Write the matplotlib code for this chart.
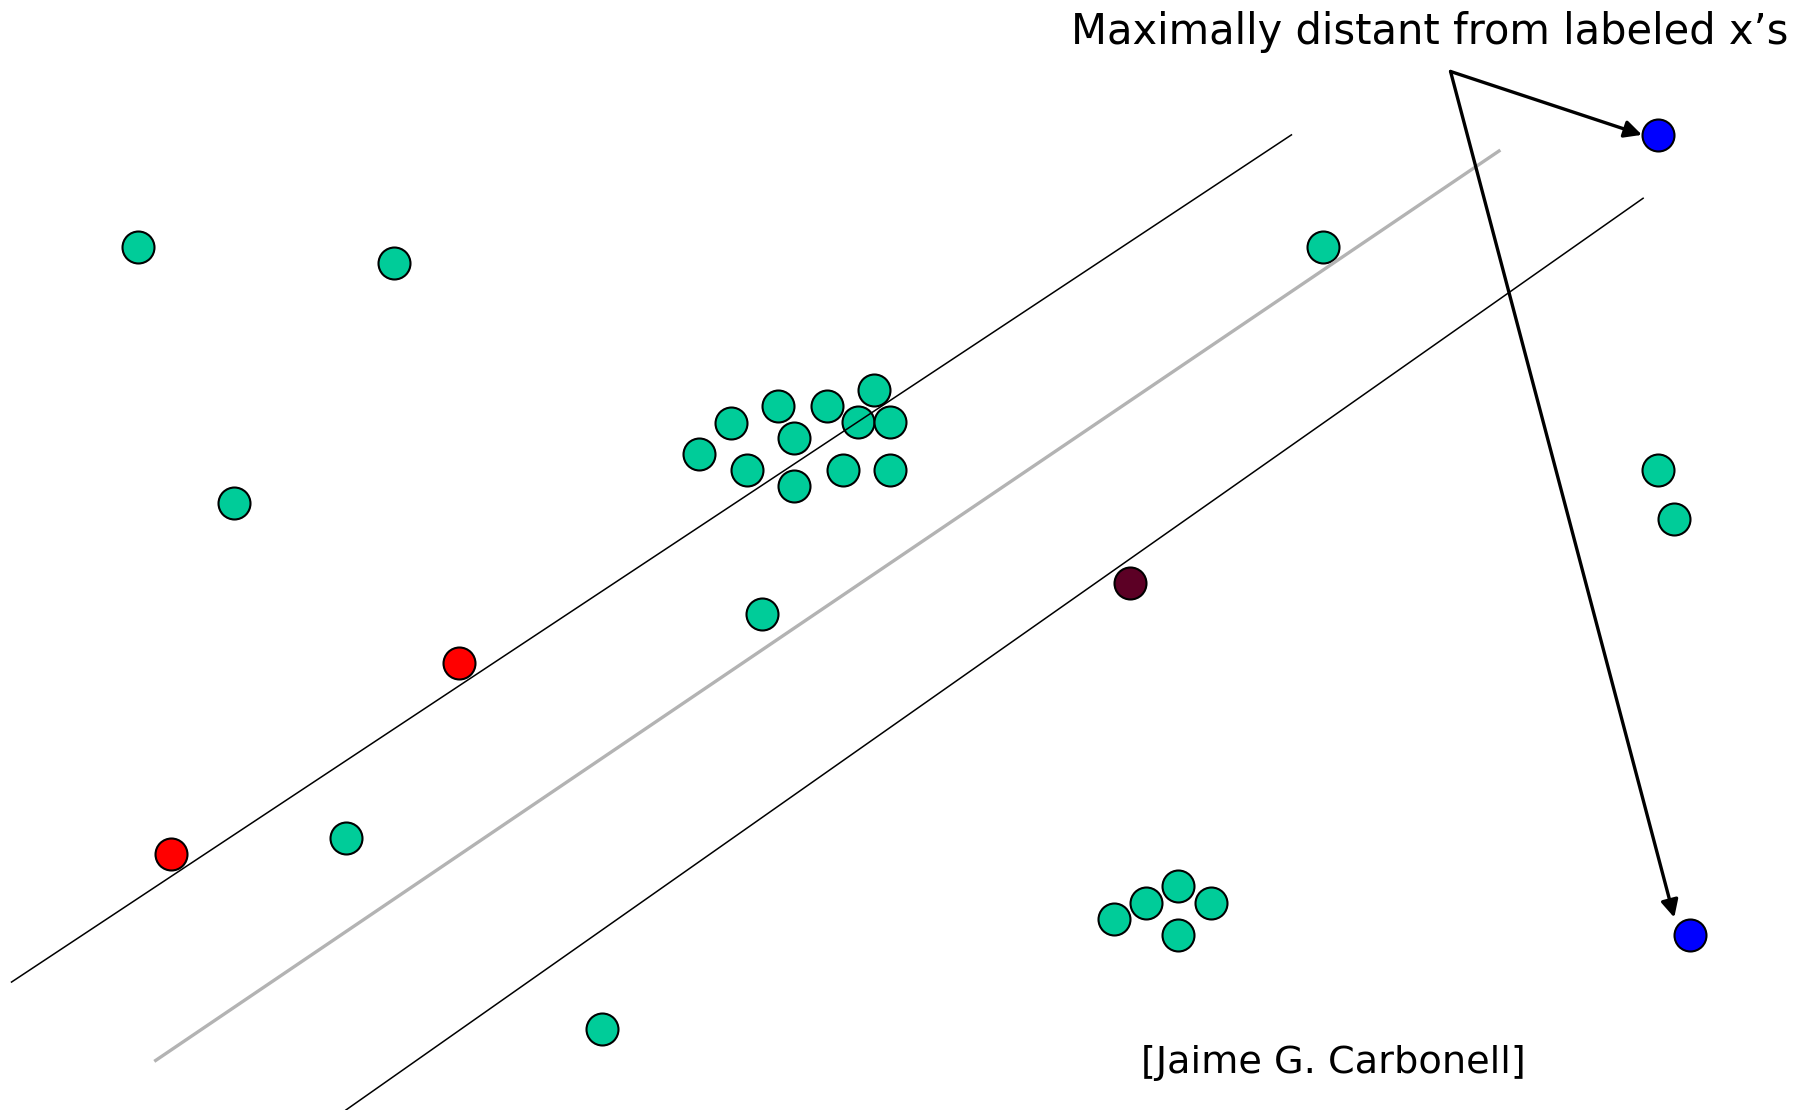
import matplotlib.pyplot as plt

# point positions (picture coordinates, y grows downward)
green_x = [120, 342, 1147, 203, 606, 634, 675, 717, 758, 744, 772, 689, 648, 731, 772, 689,
           661, 1438, 1452, 300, 522, 966, 994, 1022, 1050, 1022]
green_y = [214, 228, 214, 436, 394, 367, 352, 352, 338, 366, 366, 380, 408, 408, 408, 422,
           533, 408, 450, 727, 893, 797, 783, 769, 783, 811]
red_x = [148, 398]
red_y = [741, 575]
dark_x = [980]
dark_y = [506]
blue_x = [1438, 1466]
blue_y = [117, 811]

# separating lines: (x0, y0, x1, y1)
margin_lines = [(10, 852, 1120, 117), (300, 963, 1425, 172)]
center_line = (135, 920, 1300, 131)

arrow_origin = (1258, 62)
arrow_targets = [(1424, 117), (1452, 796)]

title_text = "Maximally distant from labeled x\u2019s"
credit_text = "[Jaime G. Carbonell]"

fig = plt.figure(figsize=(18.08, 11.10), dpi=100)
ax = fig.add_axes([0, 0, 1, 1])
ax.set_xlim(0, 1568)
ax.set_ylim(963, 0)
ax.axis("off")

pt = dict(s=530, edgecolors="black", linewidths=1.5, zorder=2)
ax.scatter(green_x, green_y, c="#00cc99", **pt)
ax.scatter(red_x, red_y, c="#ff0000", **pt)
ax.scatter(dark_x, dark_y, c="#5c0025", **pt)
ax.scatter(blue_x, blue_y, c="#0000ff", **pt)

for x0, y0, x1, y1 in margin_lines:
    ax.plot([x0, x1], [y0, y1], color="black", lw=1.1, zorder=3)
ax.plot([center_line[0], center_line[2]], [center_line[1], center_line[3]],
        color="#b3b3b3", lw=2.4, zorder=3)

for tx, ty in arrow_targets:
    ax.annotate("", xy=(tx, ty), xytext=arrow_origin,
                arrowprops=dict(arrowstyle="-|>", color="black", lw=2.4,
                                mutation_scale=26, shrinkA=0, shrinkB=0),
                zorder=4)

ax.text(1240, 28, title_text, fontsize=30, ha="center", va="center",
        family="DejaVu Sans")
ax.text(1156, 922, credit_text, fontsize=27.5, ha="center", va="center",
        family="DejaVu Sans")

fig.savefig("out.png", dpi=100)
